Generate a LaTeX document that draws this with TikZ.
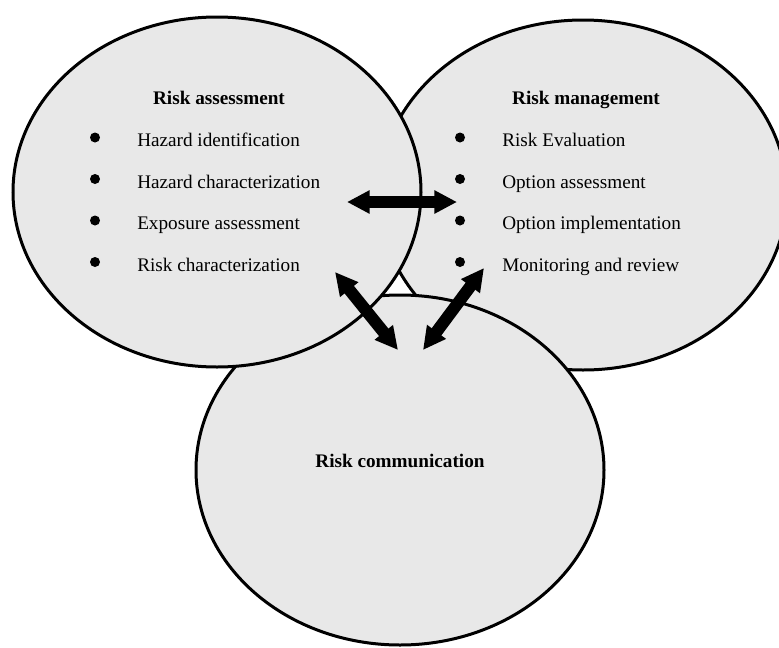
\documentclass[tikz,border=0pt]{standalone}
\usepackage{fontspec}
\setmainfont{Liberation Serif}
\usetikzlibrary{shapes.geometric,arrows.meta,positioning}
\definecolor{bubblegray}{RGB}{232,232,232}
\tikzset{
  bubble/.style={ellipse,draw=black,fill=bubblegray,line width=2.25pt,
    minimum width=306pt,minimum height=262.5pt,inner sep=0pt},
  heading/.style={anchor=base,inner sep=0pt,font=\fontsize{14.4}{17}\selectfont\bfseries},
  item/.style={anchor=base west,inner sep=0pt,font=\fontsize{14.4}{17}\selectfont},
  dot/.style={circle,fill=black,inner sep=0pt,minimum size=7.5pt},
  link/.style={line width=9pt,
    {Triangle[length=17pt,width=16.5pt]}-{Triangle[length=17pt,width=16.5pt]}}
}
\begin{document}
\begin{tikzpicture}[x=0.75pt,y=-0.75pt]
    \useasboundingbox (0,0) rectangle (779,647);

    \node[bubble] (mgmt) at (583,195) {};
    \node[bubble] (comm) at (400,470) {};
    \node[bubble] (assess) at (217,192) {};

    \node[heading] (assessT) at (219,104) {Risk assessment};
    \node[heading] (mgmtT) at (586,104) {Risk management};
    \node[heading] (commT) at (400,467) {Risk communication};

    \foreach \txt [count=\i] in {Hazard identification,Hazard characterization,Exposure assessment,Risk characterization}{
        \node[dot] (ad\i) at (95,{137.5+41.5*(\i-1)}) {};
        \node[item] (at\i) at (137,{146.5+41.5*(\i-1)}) {\txt};
    }
    \foreach \txt [count=\i] in {Risk Evaluation,Option assessment,Option implementation,Monitoring and review}{
        \node[dot] (md\i) at (460,{137.5+41.5*(\i-1)}) {};
        \node[item] (mt\i) at (502,{146.5+41.5*(\i-1)}) {\txt};
    }

    \coordinate (h1) at (347,202);
    \coordinate (h2) at (457,202);
    \coordinate (l1) at (335,272);
    \coordinate (l2) at (398,350);
    \coordinate (r1) at (484,268);
    \coordinate (r2) at (423,350);
    \draw[link] (h1) -- (h2);
    \draw[link] (l1) -- (l2);
    \draw[link] (r1) -- (r2);
\end{tikzpicture}
\end{document}
